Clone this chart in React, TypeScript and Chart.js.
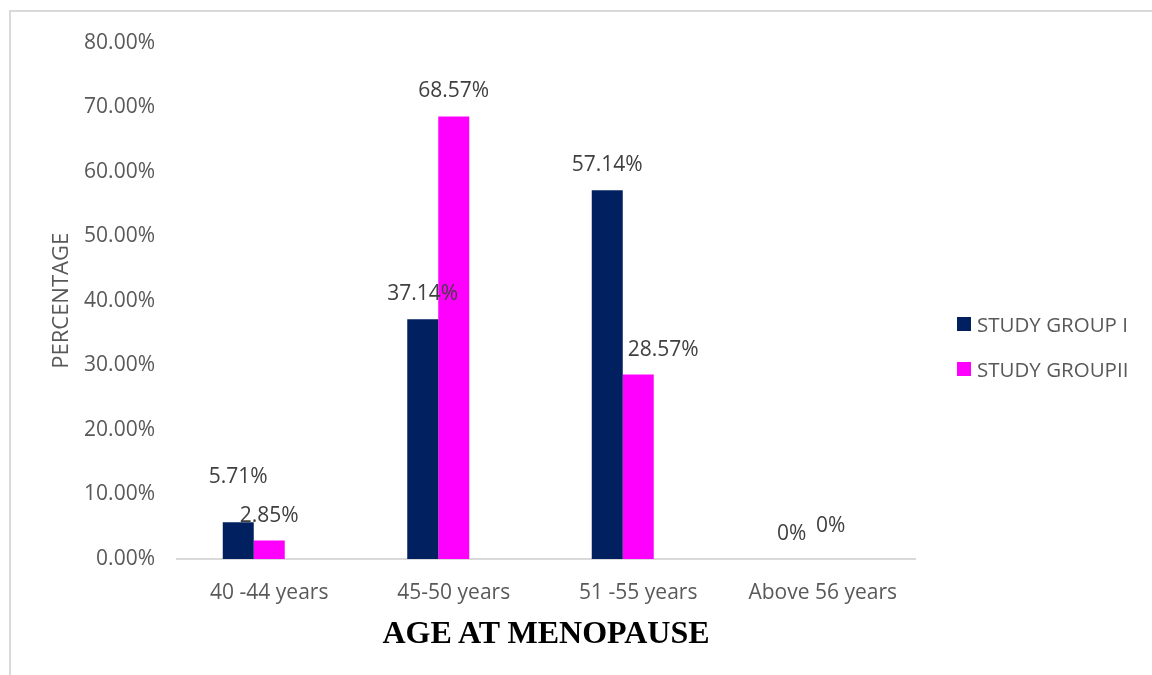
import React, { useEffect, useRef } from "react";
import { Chart, registerables } from "chart.js";

Chart.register(...registerables);

const categories = ["40 -44 years", "45-50 years", "51 -55 years", "Above 56 years"];
const groupOne = [5.71, 37.14, 57.14, 0];
const groupTwo = [2.85, 68.57, 28.57, 0];
// Empty third slot in each category group (keeps the two bars left of centre)
const emptySlot = [null, null, null, null];
const seriesNames = ["STUDY GROUP I", "STUDY GROUPII"];
const seriesColors = ["#002060", "#FF00FF"];

const TEXT_GREY = "#595959";
const SANS = "'Open Sans', 'DejaVu Sans', sans-serif";

// Hand-placed nudges for value labels that would otherwise collide
const labelNudges: Record<string, { dx: number; dy: number }> = {
  "0-0": { dx: 0, dy: -20 },
  "1-2": { dx: 25, dy: 0 },
  "1-3": { dx: 8, dy: -8 },
};

const fmtValue = (v: number) => (v === 0 ? "0%" : v.toFixed(2) + "%");

const valueLabels = {
  id: "valueLabels",
  afterDatasetsDraw(chart: any) {
    const ctx = chart.ctx;
    ctx.save();
    ctx.font = `21px ${SANS}`;
    ctx.fillStyle = "#404040";
    ctx.textAlign = "center";
    ctx.textBaseline = "middle";
    chart.data.datasets.forEach((ds: any, di: number) => {
      if (ds.isSpacer) return;
      const meta = chart.getDatasetMeta(di);
      meta.data.forEach((el: any, i: number) => {
        const n = labelNudges[`${di}-${i}`] || { dx: 0, dy: 0 };
        ctx.fillText(fmtValue(ds.data[i]), el.x + n.dx, el.y - 25 + n.dy);
      });
    });
    ctx.restore();
  },
};

export default function App() {
  const canvasRef = useRef<HTMLCanvasElement>(null);

  useEffect(() => {
    const chart = new Chart(canvasRef.current!, {
      type: "bar",
      data: {
        labels: categories,
        datasets: [
          { label: seriesNames[0], data: groupOne, backgroundColor: seriesColors[0] },
          { label: seriesNames[1], data: groupTwo, backgroundColor: seriesColors[1] },
          { label: "", data: emptySlot, backgroundColor: "rgba(0,0,0,0)", isSpacer: true } as any,
        ],
      },
      options: {
        animation: false,
        responsive: false,
        devicePixelRatio: 1,
        layout: { padding: { top: 32, right: 237, left: 0, bottom: 0 } },
        datasets: { bar: { categoryPercentage: 0.504, barPercentage: 1 } },
        plugins: {
          legend: { display: false },
          tooltip: { enabled: false },
        },
        scales: {
          x: {
            grid: { display: false, drawTicks: false },
            border: { display: true, color: "#d9d9d9", width: 2 },
            ticks: { color: TEXT_GREY, font: { family: SANS, size: 21 }, padding: 21 },
            afterFit: (scale: any) => {
              scale.height = 108;
            },
          },
          y: {
            min: 0,
            max: 80,
            grid: { display: false, drawTicks: false },
            border: { display: false },
            ticks: {
              stepSize: 10,
              color: TEXT_GREY,
              font: { family: SANS, size: 21 },
              padding: 22,
              callback: (v: any) => Number(v).toFixed(2) + "%",
            },
            title: {
              display: true,
              text: "PERCENTAGE",
              color: TEXT_GREY,
              font: { family: SANS, size: 22 },
              padding: { top: 41, bottom: 0 },
            },
            afterFit: (scale: any) => {
              scale.width = 169;
            },
          },
        },
      },
      plugins: [valueLabels],
    });
    return () => chart.destroy();
  }, []);

  return (
    <div style={{ position: "relative", width: 1144, height: 659 }}>
      {/* frame: only its top and left edges fall inside the view */}
      <div
        style={{
          position: "fixed",
          left: 9,
          top: 10,
          width: 1400,
          height: 900,
          borderLeft: "2px solid #d9d9d9",
          borderTop: "2px solid #d9d9d9",
          pointerEvents: "none",
        }}
      />
      <canvas ref={canvasRef} width={1144} height={659} style={{ position: "absolute", left: 0, top: 0 }} />
      <div
        style={{
          position: "absolute",
          left: 169,
          width: 738,
          top: 608,
          textAlign: "center",
          fontFamily: "'Liberation Serif', 'Times New Roman', serif",
          fontWeight: "bold",
          fontSize: 32,
          lineHeight: "32px",
          color: "#000000",
          whiteSpace: "nowrap",
        }}
      >
        AGE AT MENOPAUSE
      </div>
      {seriesNames.map((name, i) => (
        <div
          key={name}
          style={{
            position: "absolute",
            left: 949,
            top: 302 + i * 45,
            height: 28,
            display: "flex",
            alignItems: "center",
            fontFamily: SANS,
            fontSize: 20.5,
            color: TEXT_GREY,
            whiteSpace: "nowrap",
          }}
        >
          <span style={{ display: "inline-block", width: 14, height: 14, background: seriesColors[i], marginRight: 6 }} />
          {name}
        </div>
      ))}
    </div>
  );
}
